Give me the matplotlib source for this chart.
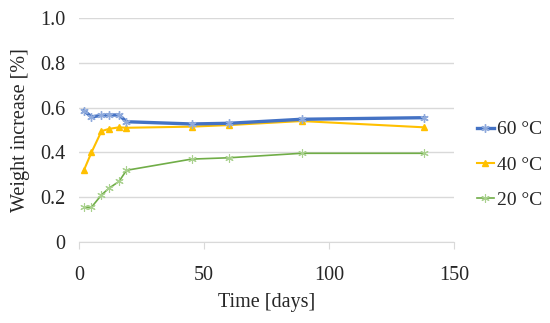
import matplotlib
matplotlib.use("Agg")
import matplotlib.pyplot as plt

days = [2, 5, 9, 12, 16, 19, 45, 60, 89, 138]
w60 = [0.586, 0.559, 0.565, 0.567, 0.567, 0.537, 0.527, 0.530, 0.548, 0.555]
w40 = [0.321, 0.400, 0.495, 0.505, 0.512, 0.510, 0.515, 0.522, 0.540, 0.512]
w20 = [0.155, 0.155, 0.210, 0.240, 0.270, 0.320, 0.370, 0.376, 0.396, 0.396]
labels = ["60 °C", "40 °C", "20 °C"]

plt.rcParams['font.family'] = ['Liberation Serif', 'DejaVu Serif']
fig = plt.figure(figsize=(5.5, 3.23), dpi=100)
ax = fig.add_axes([0.1436, 0.251, 0.682, 0.693])

txt = '#262626'
star = (6, 2, 0)
ax.plot(days, w60, color='#4472C4', lw=2.4, marker=star, ms=6, mew=1,
        mec='#8FAADC', label=labels[0], zorder=3)
ax.plot(days, w40, color='#FFC000', lw=1.5, marker='^', ms=5,
        label=labels[1], zorder=2)
ax.plot(days, w20, color='#70AD47', lw=1.2, marker=star, ms=6, mew=0.8,
        mec='#A9D18E', label=labels[2], zorder=2)

ax.set_xlim(0, 150)
ax.set_ylim(0, 1.0)
ax.set_xticks([0, 50, 100, 150])
ax.set_yticks([0, 0.2, 0.4, 0.6, 0.8, 1.0])
ax.set_yticklabels(['0', '0.2', '0.4', '0.6', '0.8', '1.0'])
ax.grid(axis='y', color='#D9D9D9', lw=1)
ax.set_axisbelow(True)
for s in ['top', 'right', 'left']:
    ax.spines[s].set_visible(False)
ax.spines['bottom'].set_color('#D9D9D9')
ax.tick_params(axis='y', length=0, labelsize=14.5, colors=txt, pad=10)
ax.tick_params(axis='x', length=5, color='#D9D9D9', labelsize=14.5, colors=txt, pad=12)
ax.set_xlabel('Time [days]', fontsize=14.5, color=txt, labelpad=6)
ax.set_ylabel('Weight increase [%]', fontsize=14.5, color=txt, labelpad=7)

leg = ax.legend(loc='center left', frameon=False, fontsize=14,
                handlelength=0.9, handletextpad=0.15, labelspacing=0.9,
                labelcolor=txt, borderaxespad=0, borderpad=0)
leg.set_bbox_to_anchor((1.06, 0.345), transform=ax.transAxes)

fig.savefig('out.png', dpi=100)
